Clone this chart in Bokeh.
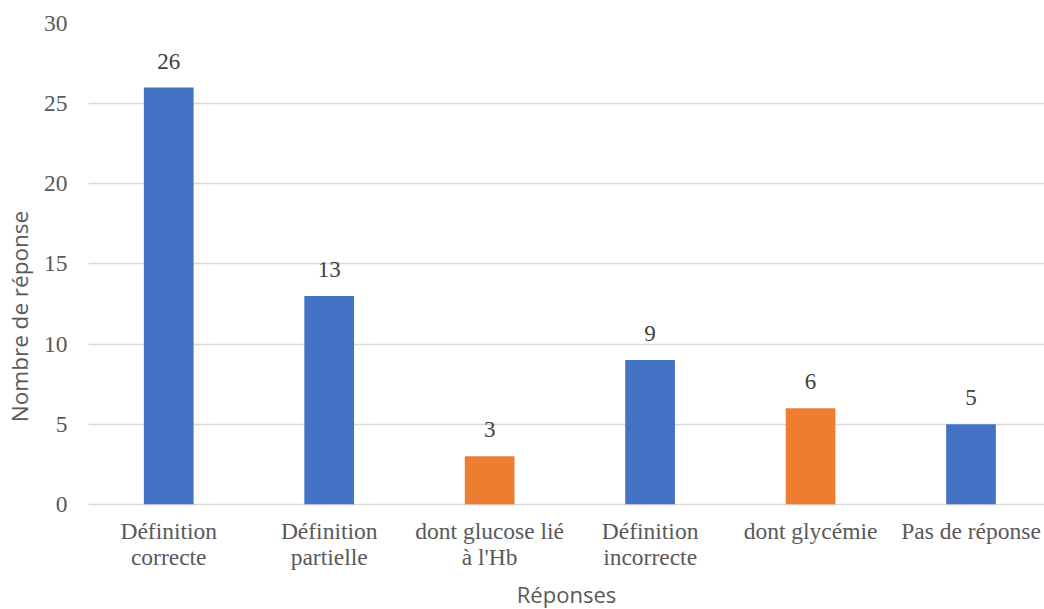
from bokeh.plotting import figure
from bokeh.models import ColumnDataSource, FixedTicker, Range1d
from bokeh.core.properties import value
from bokeh.embed import file_html
from bokeh.resources import INLINE

categories = ["Définition\ncorrecte", "Définition\npartielle", "dont glucose lié\nà l'Hb",
              "Définition\nincorrecte", "dont glycémie", "Pas de réponse"]
counts = [26, 13, 3, 9, 6, 5]
colors = ["#4472C4", "#4472C4", "#ED7D31", "#4472C4", "#ED7D31", "#4472C4"]
y_ticks = [0, 5, 10, 15, 20, 25, 30]
x_title = "Réponses"
y_title = "Nombre de réponse"

xs = list(range(len(categories)))
src = ColumnDataSource(dict(x=xs, y=counts, color=colors, label=[str(c) for c in counts],
                            cat=categories, zero=[0] * len(xs)))

x_start, x_end = -0.5, 5.458
p = figure(width=1044, height=609, output_backend="svg", toolbar_location=None,
           x_range=Range1d(x_start, x_end), y_range=Range1d(-6.56, 30),
           min_border_left=88, min_border_right=0, min_border_top=23, min_border_bottom=0)
p.outline_line_color = None
p.background_fill_color = "white"
p.border_fill_color = "white"

p.vbar(x="x", top="y", bottom="zero", width=0.31, color="color", source=src, line_color=None)
p.text(x="x", y="y", text="label", source=src, text_align="center", text_baseline="bottom",
       y_offset=-19, text_font=value("Liberation Serif"), text_font_size="23px", text_color="#404040")

# category labels under the bars
p.text(x="x", y="zero", text="cat", source=src, text_align="center", text_baseline="top",
       y_offset=14, text_font=value("Liberation Serif"), text_font_size="23.5px",
       text_color="#595959", text_line_height=1.0)

# x-axis title
p.text(x=[(x_start + x_end) / 2], y=[0], text=[x_title], text_align="center", text_baseline="middle",
       y_offset=90, text_font=value("Open Sans"), text_font_size="22px", text_color="#595959")

p.xaxis.visible = False
p.xgrid.grid_line_color = None
p.ygrid.grid_line_color = "#d9d9d9"
p.ygrid.grid_line_width = 1.3
p.yaxis.ticker = FixedTicker(ticks=y_ticks)

ax = p.yaxis[0]
ax.axis_line_color = None
ax.major_tick_line_color = None
ax.minor_tick_line_color = None
ax.major_tick_in = 0
ax.major_tick_out = 0
ax.minor_tick_in = 0
ax.minor_tick_out = 0
ax.major_label_text_font = "Liberation Serif"
ax.major_label_text_font_size = "23.5px"
ax.major_label_text_color = "#595959"
ax.axis_label_text_font = "Open Sans"
ax.axis_label_text_font_style = "normal"
ax.axis_label_text_font_size = "22.5px"
ax.axis_label_text_color = "#595959"
ax.major_label_standoff = 21
ax.axis_label = y_title
ax.axis_label_standoff = 6

open("out.html", "w").write(file_html(p, INLINE))
